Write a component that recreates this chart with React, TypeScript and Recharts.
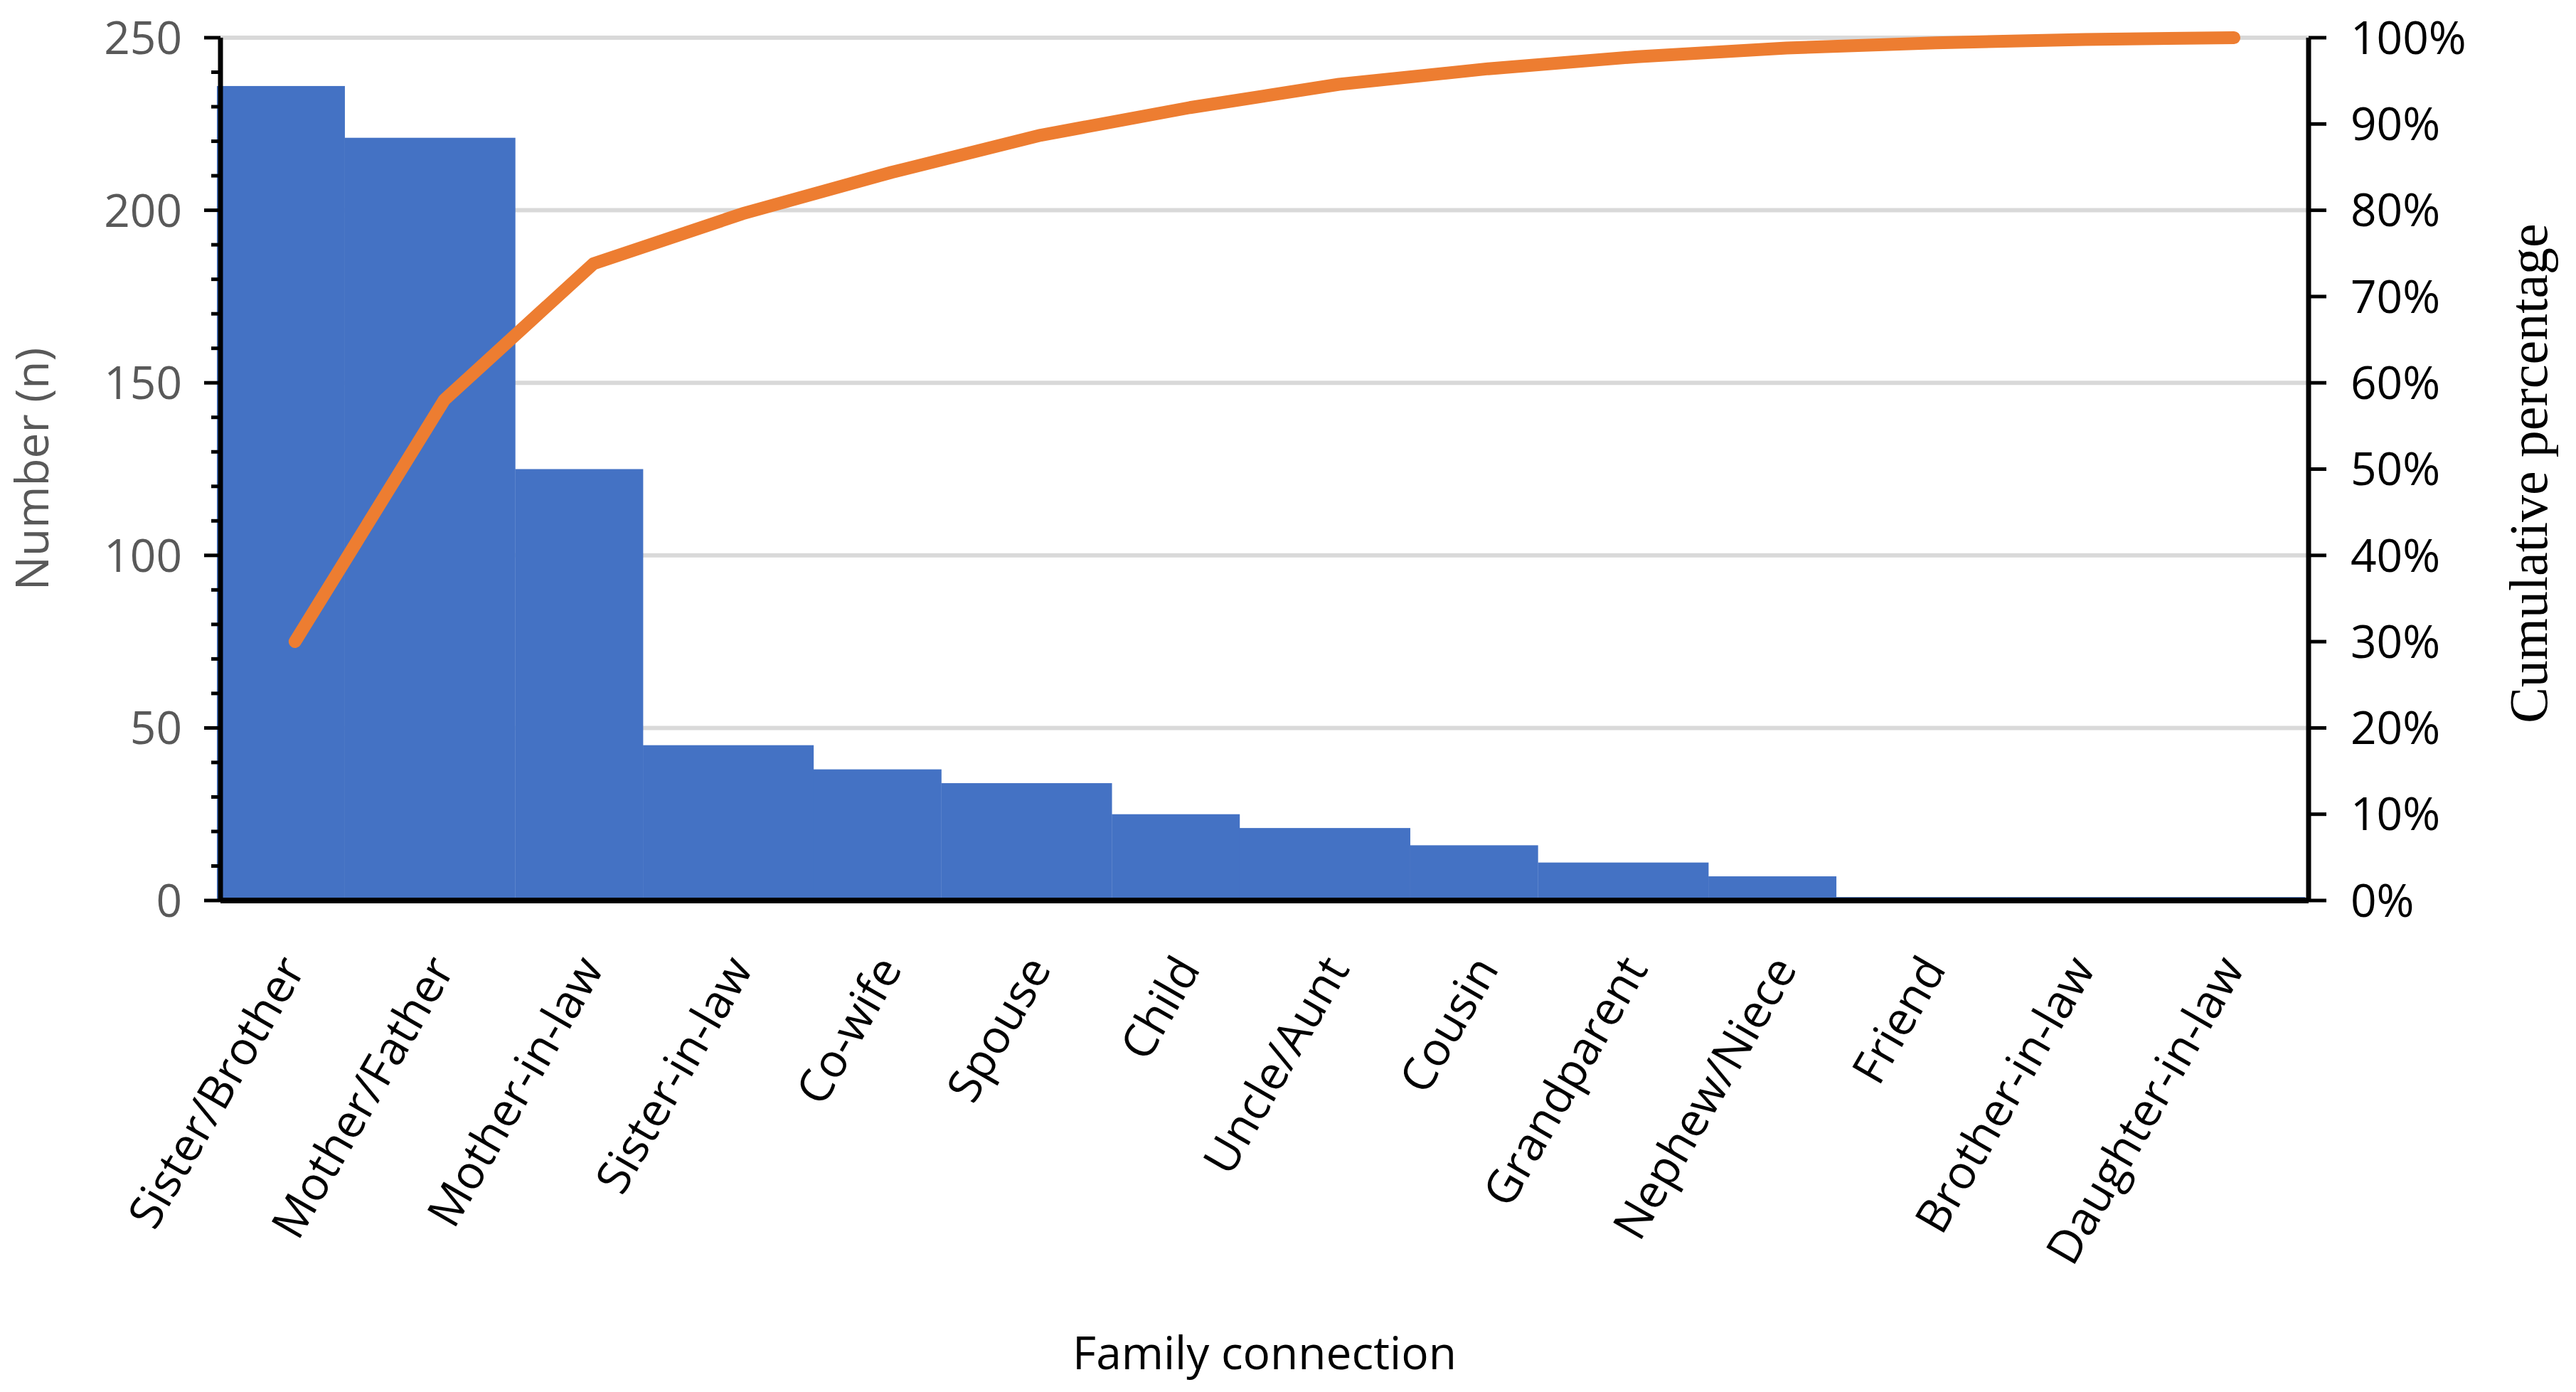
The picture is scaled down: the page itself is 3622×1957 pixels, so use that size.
import React from "react";
import {
  ComposedChart,
  Bar,
  Line,
  XAxis,
  YAxis,
  CartesianGrid,
  Label,
} from "recharts";

const categories = [
  "Sister/Brother",
  "Mother/Father",
  "Mother-in-law",
  "Sister-in-law",
  "Co-wife",
  "Spouse",
  "Child",
  "Uncle/Aunt",
  "Cousin",
  "Grandparent",
  "Nephew/Niece",
  "Friend",
  "Brother-in-law",
  "Daughter-in-law",
];

const counts = [236, 221, 125, 45, 38, 34, 25, 21, 16, 11, 7, 1, 1, 1];

// cumulative percentage
const cumulativePct = [30.0, 58.0, 73.8, 79.6, 84.4, 88.7, 91.9, 94.6, 96.4, 97.8, 98.8, 99.4, 99.8, 100];

const countTicks = [
  0, 10, 20, 30, 40, 50, 60, 70, 80, 90, 100, 110, 120, 130, 140, 150, 160, 170, 180, 190, 200, 210, 220,
  230, 240, 250,
];
const gridValues = [50, 100, 150, 200, 250];
const pctTicks = [0, 10, 20, 30, 40, 50, 60, 70, 80, 90, 100];

const data = categories.map((name, i) => ({ name, n: counts[i], cum: cumulativePct[i] }));

const SANS = "'Open Sans', 'Noto Sans', sans-serif";
const SERIF = "'Liberation Serif', 'Times New Roman', serif";
const BLUE = "#4472C4";
const ORANGE = "#ED7D31";
const GRAY_TEXT = "#595959";

/** Left axis: long ticks + labels every 50, short ticks every 10. */
const CountTick = (props: any) => {
  const { x, y, payload } = props;
  const major = payload.value % 50 === 0;
  return (
    <g>
      <line x1={x - (major ? 23 : 13)} x2={x} y1={y} y2={y} stroke="#000" strokeWidth={5} />
      {major && (
        <text x={x - 54} y={y} dy="0.36em" textAnchor="end" fill={GRAY_TEXT} fontSize={64} fontFamily={SANS}>
          {payload.value}
        </text>
      )}
    </g>
  );
};

const CategoryTick = (props: any) => {
  const { x, y, payload } = props;
  return (
    <g transform={`translate(${x + 16},${y + 96}) rotate(-60)`}>
      <text textAnchor="end" fill="#000" fontSize={65} fontFamily={SANS}>
        {payload.value}
      </text>
    </g>
  );
};

// the source image has bars alternating slightly narrower / wider within each pair
const PairedBar = (props: any) => {
  const { x, y, width, height, index, fill } = props;
  if (!height || height <= 0) return null;
  const lead = width * 0.024;
  const pair = width * 0.143;
  const even = index % 2 === 0;
  const left = even ? x - lead : x - lead - pair;
  const right = even ? x + width - lead - pair : x + width - lead;
  return <rect x={left} y={y} width={right - left} height={height} fill={fill} />;
};

export default function App() {
  return (
    <ComposedChart
      width={3606}
      height={1941}
      data={data}
      margin={{ top: 45, right: 118, left: 0, bottom: 0 }}
      barCategoryGap={0}
      barGap={0}
      style={{ fontFamily: SANS, background: "#fff" }}
    >
      <CartesianGrid
        yAxisId="left"
        vertical={false}
        horizontalValues={gridValues}
        stroke="#D9D9D9"
        strokeWidth={6}
      />

      <Bar
        yAxisId="left"
        dataKey="n"
        fill={BLUE}
        shape={<PairedBar />}
        isAnimationActive={false}
      />
      <Line
        yAxisId="right"
        type="linear"
        dataKey="cum"
        stroke={ORANGE}
        strokeWidth={18}
        strokeLinecap="round"
        strokeLinejoin="round"
        dot={false}
        activeDot={false}
        isAnimationActive={false}
      />

      <XAxis
        dataKey="name"
        interval={0}
        height={683}
        tickLine={false}
        tickSize={0}
        tickMargin={0}
        tick={<CategoryTick />}
        axisLine={{ stroke: "#000", strokeWidth: 8 }}
      >
        <Label
          content={(p: any) => {
            const vb = p.viewBox;
            return (
              <text x={vb.x + vb.width / 2} y={vb.y + 659} textAnchor="middle" fill="#000" fontSize={64} fontFamily={SANS}>
                Family connection
              </text>
            );
          }}
        />
      </XAxis>
      <YAxis
        yAxisId="left"
        orientation="left"
        width={302}
        domain={[0, 250]}
        ticks={countTicks}
        interval={0}
        tickLine={false}
        tickSize={0}
        tickMargin={0}
        tick={<CountTick />}
        axisLine={{ stroke: "#000", strokeWidth: 7 }}
      >
        <Label
          content={(p: any) => {
            const vb = p.viewBox;
            const cx = vb.x + 60;
            const cy = vb.y + vb.height / 2;
            return (
              <text
                x={cx}
                y={cy}
                transform={`rotate(-90, ${cx}, ${cy})`}
                textAnchor="middle"
                fill={GRAY_TEXT}
                fontSize={64}
                fontFamily={SANS}
              >
                Number (n)
              </text>
            );
          }}
        />
      </YAxis>
      <YAxis
        yAxisId="right"
        orientation="right"
        width={250}
        domain={[0, 100]}
        ticks={pctTicks}
        interval={0}
        tickFormatter={(v) => `${v}%`}
        tickSize={25}
        tickMargin={34}
        tickLine={{ stroke: "#000", strokeWidth: 5 }}
        tick={{ fill: "#000", fontSize: 64, fontFamily: SANS }}
        axisLine={{ stroke: "#000", strokeWidth: 7 }}
      >
        <Label
          content={(p: any) => {
            const vb = p.viewBox;
            const cx = vb.x + 335;
            const cy = vb.y + vb.height / 2 + 6;
            return (
              <text
                x={cx}
                y={cy}
                transform={`rotate(-90, ${cx}, ${cy})`}
                textAnchor="middle"
                fill="#000"
                fontSize={76}
                fontFamily={SERIF}
              >
                Cumulative percentage
              </text>
            );
          }}
        />
      </YAxis>
    </ComposedChart>
  );
}
